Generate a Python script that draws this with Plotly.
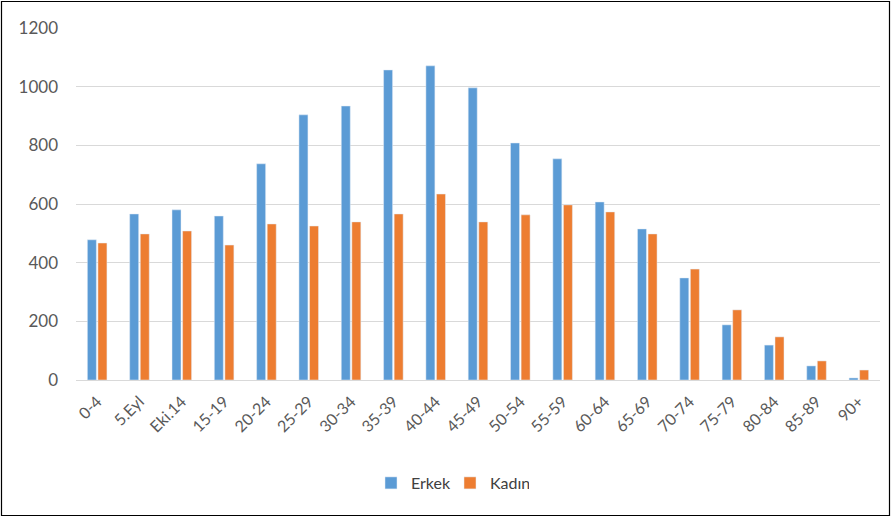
import plotly.graph_objects as go

categories = ["0-4", "5.Eyl", "Eki.14", "15-19", "20-24", "25-29", "30-34", "35-39", "40-44",
              "45-49", "50-54", "55-59", "60-64", "65-69", "70-74", "75-79", "80-84", "85-89", "90+"]
erkek = [478, 566, 580, 559, 737, 904, 934, 1057, 1071, 996, 808, 754, 607, 515, 348, 188, 119, 48, 7]
kadin = [467, 498, 508, 460, 532, 525, 539, 566, 634, 539, 563, 597, 573, 498, 378, 239, 147, 65, 34]
y_ticks = [0, 200, 400, 600, 800, 1000, 1200]

W, H = 892, 518
L, R, T, B = 76, 12, 28, 138
pw, ph = W - L - R, H - T - B

def px(x):
    return (x - L) / pw

def py(y):
    return (H - B - y) / ph

fig = go.Figure()
fig.add_trace(go.Bar(name="Erkek", x=categories, y=erkek, marker_color="#5B9BD5"))
fig.add_trace(go.Bar(name="Kadın", x=categories, y=kadin, marker_color="#ED7D31"))

fig.update_layout(
    width=W, height=H,
    margin=dict(l=L, r=R, t=T, b=B),
    paper_bgcolor="white", plot_bgcolor="white",
    font=dict(family="Lato", size=15, color="#595959"),
    barmode="group", bargap=0.5, bargroupgap=0.15,
    legend=dict(orientation="h", x=px(450), xanchor="center", y=py(483), yanchor="middle",
                font=dict(size=16, color="#404040"), itemwidth=30, traceorder="normal",
                entrywidth=34, entrywidthmode="pixels"),
    showlegend=True,
    shapes=[dict(type="rect", xref="paper", yref="paper",
                 x0=px(1.5), x1=px(889.5), y0=py(1.5), y1=py(515.5),
                 line=dict(color="black", width=1.2), fillcolor="rgba(0,0,0,0)", layer="above")],
)
fig.update_xaxes(tickangle=-45, showline=True, linecolor="#D9D9D9", ticks="",
                 tickfont=dict(size=16, color="#595959"), ticklabelstandoff=5)
fig.update_yaxes(range=[0, 1200], tickvals=y_ticks, showgrid=True, gridcolor="#D9D9D9",
                 zeroline=False, ticks="", ticklabelstandoff=17,
                 tickfont=dict(size=17, color="#595959"))

fig.write_html("out.html", post_script="document.body.style.margin='0';",
               config={"displayModeBar": False})
